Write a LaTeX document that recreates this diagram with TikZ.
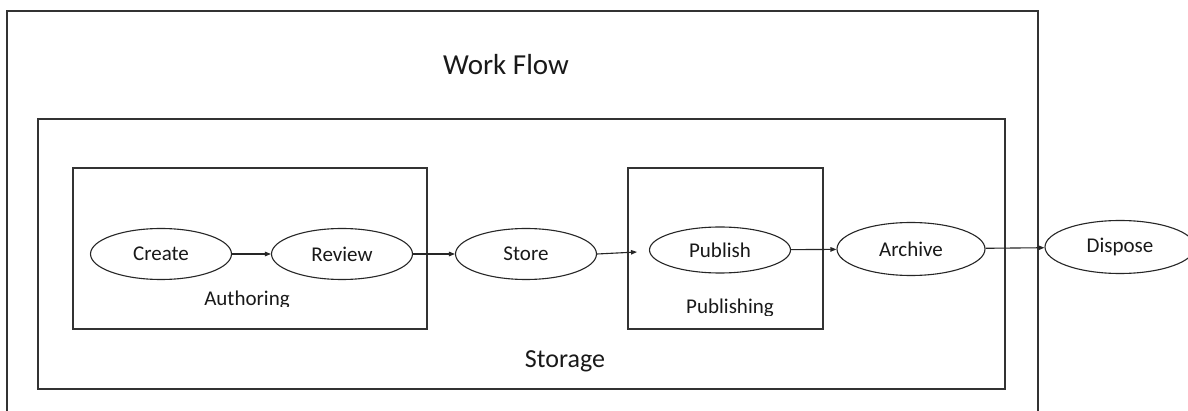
\documentclass[tikz,border=0pt]{standalone}
\usepackage{fontspec}
\setmainfont{Carlito}
\usetikzlibrary{arrows.meta,shapes.geometric,fit}

\begin{document}
\begin{tikzpicture}[x=1pt,y=-1pt,
  frame/.style={draw=black!80, line width=1.6pt, rectangle, inner sep=0pt},
  stage/.style={draw=black!85, line width=1.1pt, ellipse, inner sep=0pt,
    minimum width=141pt, minimum height=51pt, text=black!90,
    font=\fontsize{21}{21}\selectfont},
  caption/.style={text=black!90, inner sep=0pt, anchor=base,
    font=\fontsize{21}{21}\selectfont},
  title/.style={text=black!90, inner sep=0pt, anchor=base},
  flow/.style={draw=black!85, line width=1.1pt,
    -{Triangle[length=6pt,width=4.5pt]}}
]
% page area
\clip (0,0) rectangle (1188,411);
\fill[white] (0,0) rectangle (1188,411);

% nested frames
\node[frame, fit={(7,11) (1038,440)}] (workflow) {};
\node[frame, fit={(38,119) (1005,389)}] (storage) {};
\node[frame, fit={(73,168) (427,329)}] (authoring) {};
\node[frame, fit={(628,168) (823,329)}] (publishing) {};

% frame titles
\node[title, font=\fontsize{29}{29}\selectfont] (wftitle) at (506,75) {Work Flow};
\node[title, font=\fontsize{26}{26}\selectfont] (sttitle) at (565,367) {Storage};
\begin{scope}
  \clip (73,168) rectangle (427,307);
  \node[caption] (autitle) at (247,306) {Authoring};
\end{scope}
\begin{scope}
  \clip (628,168) rectangle (823,316);
  \node[caption] (pbtitle) at (730,314) {Publishing};
\end{scope}

% stages
\node[stage] (create)  at (161,254) {Create};
\node[stage] (review)  at (342,254) {Review};
\node[stage] (store)   at (526,254) {Store};
\node[stage, minimum width=141pt, minimum height=46pt] (publish) at (720,250) {Publish};
\node[stage, minimum width=148pt, minimum height=53pt] (archive) at (911,249) {Archive};
\node[stage, minimum width=150pt, minimum height=53pt] (dispose) at (1120,247) {Dispose};

% connectors
\coordinate (pubin) at (637,252);
\draw[flow] (create) -- (review);
\draw[flow] (review) -- (store);
\draw[flow] (store.east) -- (pubin);
\draw[flow] (publish) -- (archive);
\draw[flow] (archive) -- (dispose);
\end{tikzpicture}
\end{document}
